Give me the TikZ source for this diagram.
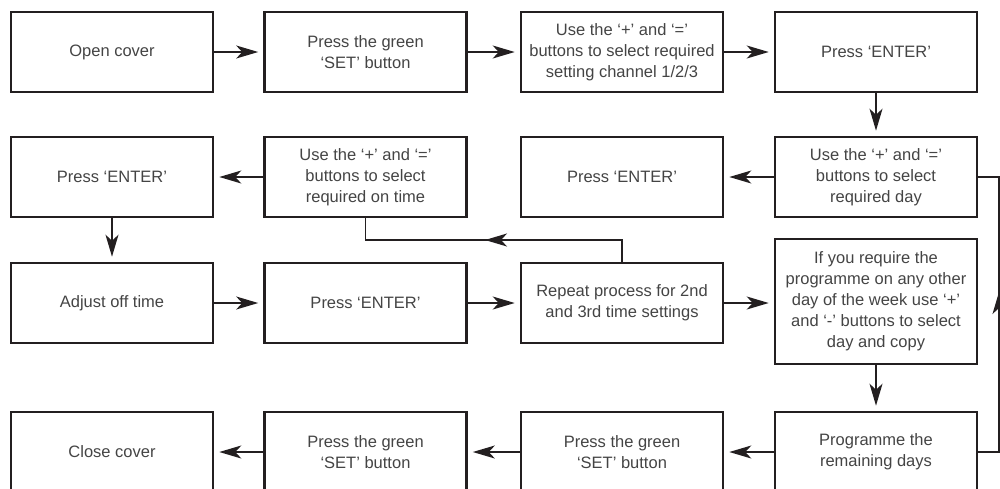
\documentclass[tikz,border=0pt]{standalone}
\usepackage{fontspec}
\setmainfont{Liberation Sans}
\usetikzlibrary{arrows.meta}
\definecolor{ink}{HTML}{231F20}
\definecolor{txt}{HTML}{444444}
\tikzset{
  box/.style={draw=ink, line width=2.6pt, rectangle, minimum width=202pt, minimum height=80pt,
    inner sep=2pt, align=center, text=txt, font=\fontsize{16.5}{21}\selectfont},
  conn/.style={draw=ink, line width=1.5pt},
  arr/.style={conn, -{Stealth[length=22pt, width=13pt, inset=6pt]}, shorten >=5pt},
  midarr/.style={conn, -{Stealth[length=22pt, width=13pt, inset=6pt]}}
}
\begin{document}
\begin{tikzpicture}[x=1pt, y=-1pt]
\useasboundingbox (0,0) rectangle (1000,488);
% row 1
\node[box] (open) at (112,52) {Open cover};
\node[box] (set1) at (365.5,52) {Press the green\\‘SET’ button};
\node[box] (chan) at (622,52) {Use the ‘+’ and ‘=’\\buttons to select required\\setting channel 1/2/3};
\node[box] (ent1) at (876,52) {Press ‘ENTER’};
% row 2
\node[box] (ent4) at (112,177) {Press ‘ENTER’};
\node[box] (ontime) at (365.5,177) {Use the ‘+’ and ‘=’\\buttons to select\\required on time};
\node[box] (ent2) at (622,177) {Press ‘ENTER’};
\node[box] (day) at (876,177) {Use the ‘+’ and ‘=’\\buttons to select\\required day};
% row 3
\node[box] (off) at (112,303) {Adjust off time};
\node[box] (ent3) at (365.5,303) {Press ‘ENTER’};
\node[box] (rep) at (622,303) {Repeat process for 2nd\\and 3rd time settings};
\node[box, minimum height=125pt] (copy) at (876,301.5) {If you require the\\programme on any other\\day of the week use ‘+’\\and ‘-’ buttons to select\\day and copy};
% row 4
\node[box] (close) at (112,452) {Close cover};
\node[box] (set3) at (365.5,452) {Press the green\\‘SET’ button};
\node[box] (set2) at (622,452) {Press the green\\‘SET’ button};
\node[box] (rem) at (876,452) {Programme the\\remaining days};
% connectors
\draw[arr] (open) -- (set1);
\draw[arr] (set1) -- (chan);
\draw[arr] (chan) -- (ent1);
\draw[arr] (ent1) -- (day);
\draw[arr] (day) -- (ent2);
\draw[arr] (ontime) -- (ent4);
\draw[arr] (ent4) -- (off);
\draw[arr] (off) -- (ent3);
\draw[arr] (ent3) -- (rep);
\draw[arr] (rep) -- (copy.west |- rep.east);
\draw[arr] (copy) -- (rem);
\draw[arr] (rem) -- (set2);
\draw[arr] (set2) -- (set3);
\draw[arr] (set3) -- (close);
% loop from repeat back to on time
\coordinate (la) at (622,240);
\coordinate (lb) at (365.5,240);
\coordinate (lt) at (485,240);
\draw[conn] (rep.north) -- (la) -- (lb) -- (ontime.south);
\draw[midarr] (la) -- (lt);
% loop from remaining days back to required day
\coordinate (ra) at (999,177);
\coordinate (rb) at (999,452);
\coordinate (rt) at (999,292);
\draw[conn] (rem.east) -- (rb) -- (ra) -- (day.east);
\draw[midarr] (rb) -- (rt);
\end{tikzpicture}
\end{document}
